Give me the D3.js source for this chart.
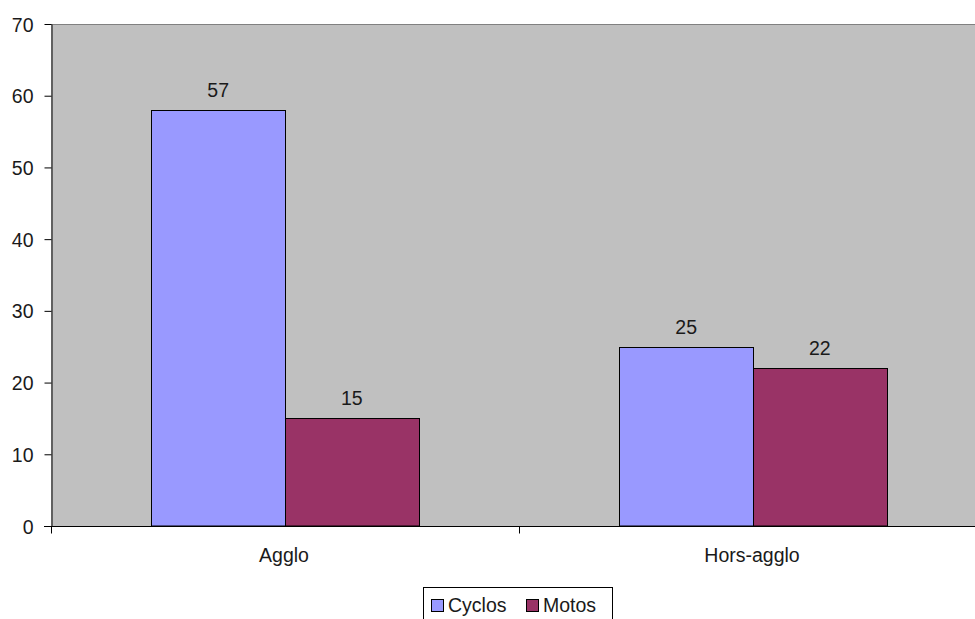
<!DOCTYPE html>
<html><head><meta charset="utf-8">
<script src="https://cdn.jsdelivr.net/npm/d3@7"></script>
<style>body{margin:0;background:#fff}svg{display:block}text{font-family:"Liberation Sans",Arial,sans-serif;font-size:19.5px;fill:#1a1a1a}</style>
</head><body>
<script>
const categories = ["Agglo", "Hors-agglo"];
const seriesNames = ["Cyclos", "Motos"];
const cyclos = [58, 25];
const motos = [15, 22];
const cyclosLabels = ["57", "25"];
const motosLabels = ["15", "22"];
const yTicks = [0, 10, 20, 30, 40, 50, 60, 70];
const colors = ["#9999FF", "#993366"];

(function () {
const W = 975, H = 619;
const FS = "19.5px";
const svg = d3.select("body").append("svg").attr("width", W).attr("height", H);
const pL = 51, pR = 987, pT = 24, pB = 526;

const y = d3.scaleLinear().domain([0, 70]).range([pB, pT]);
const x0 = d3.scaleBand().domain(categories).range([pL, pR]).paddingInner(0).paddingOuter(0);

svg.append("rect").attr("x", pL).attr("y", pT).attr("width", pR - pL).attr("height", pB - pT).attr("fill", "#C0C0C0");
svg.append("line").attr("x1", pL).attr("x2", pR).attr("y1", pT + 0.5).attr("y2", pT + 0.5).attr("stroke", "#808080");

const series = [
  {name: seriesNames[0], values: cyclos, labels: cyclosLabels, color: colors[0]},
  {name: seriesNames[1], values: motos, labels: motosLabels, color: colors[1]}
];

const bandW = x0.bandwidth();
series.forEach((s, si) => {
  categories.forEach((c, ci) => {
    const bw = bandW / 3.5;
    const gx = x0(c) + bw * 0.75 + si * bw;
    const yt = y(s.values[ci]);
    svg.append("rect")
      .attr("x", Math.round(gx) + 0.5).attr("y", Math.round(yt) + 0.5)
      .attr("width", Math.round(bw)).attr("height", Math.round(pB - yt) - 0.5)
      .attr("fill", s.color).attr("stroke", "#000").attr("stroke-width", 1);
    svg.append("text")
      .attr("x", gx + bw / 2).attr("y", yt - 13)
      .attr("text-anchor", "middle").text(s.labels[ci]);
  });
});

const yAxis = d3.axisLeft(y).tickValues(yTicks).tickSize(7).tickPadding(11).tickSizeOuter(0);
const ya = svg.append("g").attr("transform", `translate(${pL + 0.5},0)`).call(yAxis);
ya.attr("font-size", null).attr("font-family", null);
ya.selectAll("path,line").attr("stroke", "#000");
ya.selectAll("text").attr("fill", "#1a1a1a").attr("dy", "0.36em");

const xa = svg.append("g").attr("transform", `translate(0,${pB + 0.5})`);
xa.append("line").attr("x1", pL - 7).attr("x2", pR).attr("stroke", "#000");
[pL, x0(categories[1])].forEach(b => xa.append("line").attr("x1", Math.round(b) + 0.5).attr("x2", Math.round(b) + 0.5).attr("y1", 0).attr("y2", 7).attr("stroke", "#000"));
categories.forEach(c => xa.append("text").attr("x", x0(c) + bandW / 2 - 1).attr("y", 35.5).attr("text-anchor", "middle").text(c));

const lg = svg.append("g");
lg.append("rect").attr("x", 423.5).attr("y", 587.5).attr("width", 189).attr("height", 40).attr("fill", "#fff").attr("stroke", "#000");
const lx = [431, 526];
series.forEach((s, i) => {
  lg.append("rect").attr("x", lx[i] + 0.5).attr("y", 599.5).attr("width", 12).attr("height", 12).attr("fill", s.color).attr("stroke", "#000");
  lg.append("text").attr("x", lx[i] + 17).attr("y", 612).text(s.name);
});
})();
</script>
</body></html>
